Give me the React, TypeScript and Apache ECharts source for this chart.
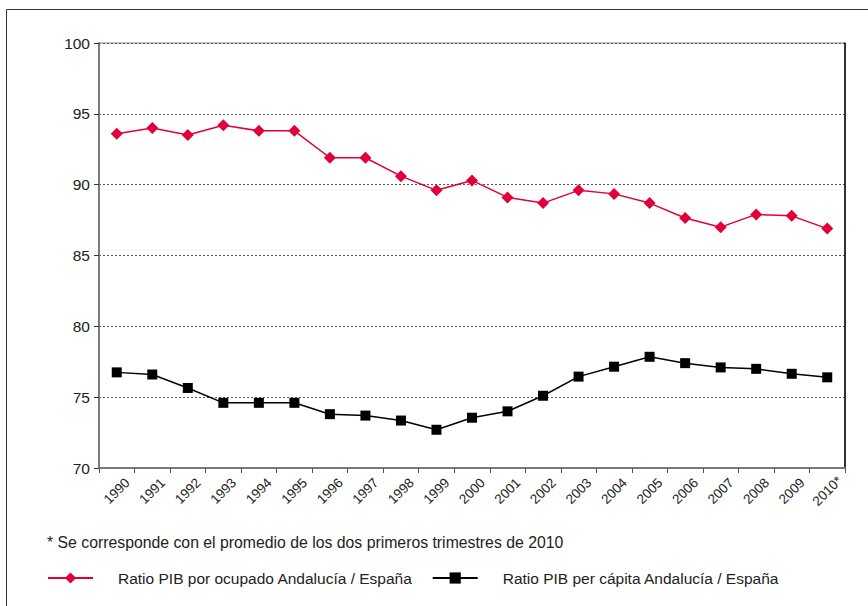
import React, { useEffect, useRef } from "react";
import * as echarts from "echarts";

const years = [
  "1990", "1991", "1992", "1993", "1994", "1995", "1996", "1997", "1998", "1999",
  "2000", "2001", "2002", "2003", "2004", "2005", "2006", "2007", "2008", "2009", "2010*",
];

const pibPorOcupado = [
  93.6, 94.0, 93.5, 94.2, 93.8, 93.8, 91.9, 91.9, 90.6, 89.6,
  90.3, 89.1, 88.7, 89.6, 89.35, 88.7, 87.65, 87.0, 87.9, 87.8, 86.9,
];

const pibPerCapita = [
  76.75, 76.6, 75.65, 74.6, 74.6, 74.6, 73.8, 73.7, 73.35, 72.7,
  73.55, 74.0, 75.1, 76.45, 77.15, 77.85, 77.4, 77.1, 77.0, 76.65, 76.4,
];

const serieNames = [
  "Ratio PIB por ocupado Andalucía / España",
  "Ratio PIB per cápita Andalucía / España",
];

const footnote = "* Se corresponde con el promedio de los dos primeros trimestres de 2010";

const FONT = "'Liberation Sans', Arial, sans-serif";
const RED = "#E1003A";

export default function App() {
  const ref = useRef<HTMLDivElement>(null);

  useEffect(() => {
    if (!ref.current) return;
    const chart = echarts.init(ref.current, null, { renderer: "svg" });
    chart.setOption({
      animation: false,
      backgroundColor: "#ffffff",
      textStyle: { fontFamily: FONT },
      grid: {
        left: 99,
        top: 43,
        right: 23,
        bottom: 138,
        show: true,
        borderColor: "#8a8a8a",
        borderWidth: 1,
      },
      xAxis: {
        type: "category",
        data: years,
        boundaryGap: true,
        axisLine: { lineStyle: { color: "#7a7a7a", width: 2 } },
        axisTick: { show: true, length: 5, lineStyle: { color: "#555", width: 1 } },
        axisLabel: {
          rotate: 45,
          align: "center",
          verticalAlign: "middle",
          margin: 23,
          fontSize: 13.5,
          color: "#222",
          fontFamily: FONT,
        },
      },
      yAxis: [
        {
          type: "value",
          min: 70,
          max: 100,
          interval: 5,
          axisLine: { show: true, lineStyle: { color: "#7a7a7a", width: 2 } },
          axisTick: { show: true, length: 5, lineStyle: { color: "#333", width: 1 } },
          axisLabel: { fontSize: 15.5, color: "#222", margin: 9, fontFamily: FONT },
          splitLine: { show: true, lineStyle: { color: "#555", width: 1, type: [2, 2] } },
        },
        {
          type: "value",
          position: "right",
          min: 70,
          max: 100,
          interval: 5,
          axisLine: { show: true, lineStyle: { color: "#000", width: 1.5 } },
          axisTick: { show: false },
          axisLabel: { show: false },
          splitLine: { show: false },
        },
      ],
      legend: {
        left: 42,
        top: 565,
        itemWidth: 45,
        itemHeight: 14,
        itemGap: 19,
        textStyle: { fontSize: 15.5, color: "#222", fontFamily: FONT, padding: [0, 0, 0, 20] },
        data: serieNames,
      },
      graphic: [
        {
          type: "rect",
          shape: { x: 6.5, y: 9.5, width: 880, height: 620 },
          style: { fill: "none", stroke: "#333", lineWidth: 1 },
          silent: true,
        },
        {
          type: "text",
          left: 47,
          top: 534,
          style: { text: footnote, fontSize: 15.8, fill: "#222", fontFamily: FONT },
        },
      ],
      series: [
        {
          name: serieNames[0],
          type: "line",
          data: pibPorOcupado,
          symbol: "diamond",
          symbolSize: 12,
          color: RED,
          lineStyle: { color: RED, width: 1.5 },
          itemStyle: { color: RED },
        },
        {
          name: serieNames[1],
          type: "line",
          data: pibPerCapita,
          symbol: "rect",
          symbolSize: 10,
          color: "#000",
          lineStyle: { color: "#000", width: 1.5 },
          itemStyle: { color: "#000" },
        },
      ],
    });
    return () => chart.dispose();
  }, []);

  return (
    <div
      ref={ref}
      style={{ position: "absolute", left: 0, top: 0, width: 868, height: 606 }}
    />
  );
}
